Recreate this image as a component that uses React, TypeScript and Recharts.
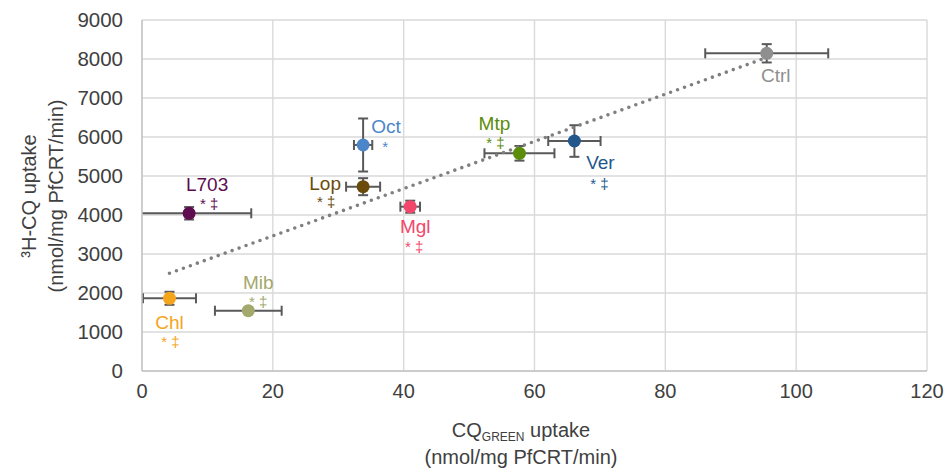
import React from 'react';
import { ScatterChart, Scatter, XAxis, YAxis, CartesianGrid, ErrorBar } from 'recharts';

// Compounds tested and their measured uptake values
const compounds = ['Ctrl', 'Ver', 'Mtp', 'Oct', 'Lop', 'Mgl', 'L703', 'Chl', 'Mib'];
const cqGreenUptake = [95.5, 66.1, 57.7, 33.8, 33.8, 41.0, 7.2, 4.2, 16.25];
const cqGreenErr = [9.4, 4.0, 5.35, 1.4, 2.6, 1.5, 9.5, 4.05, 5.1];
const h3CqUptake = [8146, 5897, 5582, 5795, 4726, 4213, 4044, 1864, 1546];
const h3CqErr = [235, 405, 188, 680, 218, 154, 160, 167, 0];
const significance = ['', '* \u2021', '* \u2021', '*', '* \u2021', '* \u2021', '* \u2021', '* \u2021', '* \u2021'];

const xTicks = [0, 20, 40, 60, 80, 100, 120];
const yTicks = [0, 1000, 2000, 3000, 4000, 5000, 6000, 7000, 8000, 9000];

// Marker / label colours per compound
const COLORS: Record<string, string> = {
  Ctrl: '#8f8f8f',
  Ver: '#23578c',
  Mtp: '#5b8c0a',
  Oct: '#4d86c8',
  Lop: '#6b4b0c',
  Mgl: '#f2476b',
  L703: '#5e0b4f',
  Chl: '#f5a51c',
  Mib: '#a3a86b',
};

// Pixel offsets of the name label and the significance marks from each point
const LABEL_POS: Record<string, { nx: number; ny: number; sx: number; sy: number }> = {
  Ctrl: { nx: 9, ny: 22, sx: 9, sy: 40 },
  Ver: { nx: 26, ny: 21, sx: 25, sy: 42 },
  Mtp: { nx: -25, ny: -30, sx: -24, sy: -11 },
  Oct: { nx: 23, ny: -18, sx: 22, sy: 2 },
  Lop: { nx: -38, ny: -3, sx: -37, sy: 15 },
  Mgl: { nx: 5, ny: 20, sx: 4, sy: 40 },
  L703: { nx: 18, ny: -29, sx: 20, sy: -10 },
  Chl: { nx: 0, ny: 24, sx: 1, sy: 43 },
  Mib: { nx: 10, ny: -28, sx: 10, sy: -9 },
};

const FONT = "'Liberation Sans', Arial, sans-serif";

// Chart geometry
const W = 948;
const H = 471;
const MARGIN = { top: 20, right: 21, bottom: 0, left: 0 };
const Y_AXIS_W = 142;
const X_AXIS_H = 100;

const points = compounds.map((name, i) => ({
  name,
  x: cqGreenUptake[i],
  y: h3CqUptake[i],
  xErr: cqGreenErr[i],
  yErr: h3CqErr[i],
  sig: significance[i],
}));

// Least-squares linear trendline spanning the data range
const trend = (() => {
  const n = points.length;
  const mx = points.reduce((s, p) => s + p.x, 0) / n;
  const my = points.reduce((s, p) => s + p.y, 0) / n;
  let sxy = 0;
  let sxx = 0;
  points.forEach((p) => {
    sxy += (p.x - mx) * (p.y - my);
    sxx += (p.x - mx) * (p.x - mx);
  });
  const slope = sxy / sxx;
  const icpt = my - slope * mx;
  const xs = points.map((p) => p.x);
  const x0 = Math.min(...xs);
  const x1 = Math.max(...xs);
  return [
    { x: x0, y: icpt + slope * x0 },
    { x: x1, y: icpt + slope * x1 },
  ];
})();

const PointShape = (props: any) => {
  const { cx, cy, payload } = props;
  if (cx == null || cy == null || !payload) return <g />;
  const c = COLORS[payload.name];
  const pos = LABEL_POS[payload.name];
  return (
    <g>
      <circle cx={cx} cy={cy} r={6.5} fill={c} />
      <text
        x={cx + pos.nx}
        y={cy + pos.ny}
        fill={c}
        fontSize={19}
        fontFamily={FONT}
        textAnchor="middle"
        dominantBaseline="central"
      >
        {payload.name}
      </text>
      {payload.sig ? (
        <text
          x={cx + pos.sx}
          y={cy + pos.sy}
          fill={c}
          fontSize={15}
          fontFamily={FONT}
          textAnchor="middle"
          dominantBaseline="central"
        >
          {payload.sig}
        </text>
      ) : null}
    </g>
  );
};

const XTitle = () => (
  <g fontFamily={FONT} fill="#404040" fontSize={20}>
    <text x={521} y={437} textAnchor="middle">
      CQ
      <tspan fontSize={12} dy={4}>GREEN</tspan>
      <tspan dy={-4}> uptake</tspan>
    </text>
    <text x={521} y={464} textAnchor="middle">
      (nmol/mg PfCRT/min)
    </text>
  </g>
);

const YTitle = () => (
  <g fontFamily={FONT} fill="#404040" fontSize={20}>
    <text x={36} y={196} textAnchor="middle" transform="rotate(-90, 36, 196)">
      {'\u00B3H-CQ uptake'}
    </text>
    <text x={63} y={196} textAnchor="middle" transform="rotate(-90, 63, 196)">
      (nmol/mg PfCRT/min)
    </text>
  </g>
);

export default function App() {
  const plotX = MARGIN.left + Y_AXIS_W;
  const plotY = MARGIN.top;
  const plotW = W - MARGIN.left - MARGIN.right - Y_AXIS_W;
  const plotH = H - MARGIN.top - MARGIN.bottom - X_AXIS_H;
  return (
    <div style={{ position: 'absolute', left: 0, top: 0, width: W, height: H, background: '#fff' }}>
      {/* error bars are clipped to the plotting area */}
      <svg width={0} height={0} style={{ position: 'absolute' }}>
        <defs>
          <clipPath id="plot-area-clip" clipPathUnits="userSpaceOnUse">
            <rect x={plotX} y={plotY} width={plotW} height={plotH} />
          </clipPath>
        </defs>
      </svg>
      <style>{'.recharts-errorBar, .recharts-errorBars { clip-path: url(#plot-area-clip); }'}</style>
      <ScatterChart width={W} height={H} margin={MARGIN}>
        <CartesianGrid stroke="#d9d9d9" strokeWidth={1.4} />
        <XAxis
          type="number"
          dataKey="x"
          domain={[0, 120]}
          ticks={xTicks}
          allowDataOverflow
          height={X_AXIS_H}
          tickLine={false}
          tickSize={6}
          tickMargin={7}
          axisLine={{ stroke: '#c4c4c4', strokeWidth: 1.4 }}
          tick={{ fill: '#404040', fontSize: 20, fontFamily: FONT }}
          label={<XTitle />}
        />
        <YAxis
          type="number"
          dataKey="y"
          domain={[0, 9000]}
          ticks={yTicks}
          allowDataOverflow
          width={Y_AXIS_W}
          tickLine={false}
          tickSize={10}
          tickMargin={9}
          axisLine={{ stroke: '#c4c4c4', strokeWidth: 1.4 }}
          tick={{ fill: '#404040', fontSize: 20.5, fontFamily: FONT }}
          label={<YTitle />}
        />
        <Scatter
          data={trend}
          isAnimationActive={false}
          line={{ stroke: '#7f7f7f', strokeWidth: 3.6, strokeDasharray: '0 7.4', strokeLinecap: 'round' }}
          shape={() => <g />}
          legendType="none"
        />
        <Scatter data={points} isAnimationActive={false} shape={<PointShape />}>
          <ErrorBar dataKey="xErr" direction="x" width={5} stroke="#595959" strokeWidth={2} />
          <ErrorBar dataKey="yErr" direction="y" width={5} stroke="#595959" strokeWidth={2} />
        </Scatter>
      </ScatterChart>
    </div>
  );
}
